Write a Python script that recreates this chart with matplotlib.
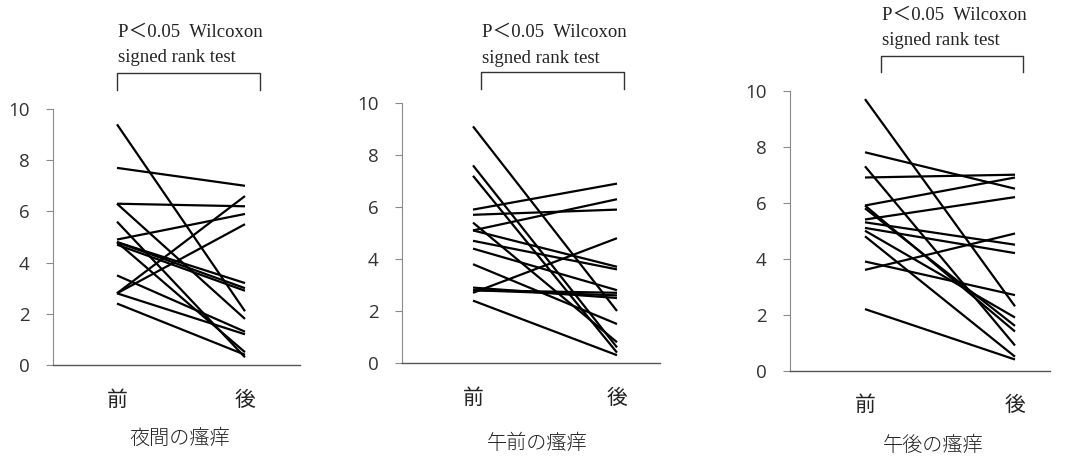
import matplotlib
matplotlib.use('Agg')
import matplotlib.pyplot as plt

# 各パネルの前後の値（目視で読み取り）
before_night = [9.4, 7.7, 6.3, 6.3, 5.6, 4.9, 4.8, 4.8, 4.7, 4.8, 3.5, 2.8, 2.8, 2.8, 2.4]
after_night = [2.1, 7.0, 6.2, 1.8, 0.3, 5.9, 3.2, 3.0, 2.9, 0.5, 1.3, 6.6, 5.5, 1.2, 0.4]

before_am = [9.1, 7.6, 7.2, 5.9, 5.7, 5.4, 5.1, 5.1, 4.7, 4.4, 3.8, 2.7, 2.8, 2.8, 2.9, 2.4]
after_am = [2.0, 0.6, 0.4, 6.9, 5.9, 0.8, 6.3, 3.7, 3.6, 2.8, 1.5, 4.8, 2.7, 2.6, 2.5, 0.3]

before_pm = [9.7, 7.8, 7.3, 6.9, 5.9, 5.9, 5.8, 5.4, 5.3, 5.1, 5.0, 4.8, 3.9, 3.6, 2.2]
after_pm = [2.3, 6.5, 0.9, 7.0, 6.9, 1.4, 1.6, 6.2, 4.5, 4.2, 1.9, 0.5, 2.7, 4.9, 0.4]

x_labels = ['前', '後']
titles = ['夜間の瘙痒', '午前の瘙痒', '午後の瘙痒']
y_ticks = [0, 2, 4, 6, 8, 10]
stat_text = 'P＜0.05  Wilcoxon\nsigned rank test'

W, H = 1091, 457
fig = plt.figure(figsize=(W / 100, H / 100), dpi=100)

# パネル配置（ピクセル）: left, right, top(10), bottom(0), 前のx, 後のx
panels = [
    (53, 300, 109, 365, 117, 245),
    (402, 660, 103, 363, 473, 617),
    (790, 1050, 90.7, 370.7, 865, 1015),
]
# 括弧とテキストの位置（ピクセル）: 括弧左, 括弧右, 括弧上, 脚下, テキスト左, テキスト中心y, 下ラベル中心x, 中心y
brackets = [
    (117, 260, 73, 90, 118, 45, 180, 438),
    (481, 624, 72, 89, 482, 45.5, 537, 443),
    (881, 1023, 56, 72, 882, 28, 933, 445),
]
data = [(before_night, after_night), (before_am, after_am), (before_pm, after_pm)]

serif = ['Liberation Serif', 'Noto Sans CJK JP']
cjk = ['Noto Sans CJK JP', 'DejaVu Sans']

for (l, r, t, b, x0, x1), (bl, br, bt, bb, tx, ty, lx, ly), (bef, aft), title in zip(panels, brackets, data, titles):
    ax = fig.add_axes([l / W, 1 - b / H, (r - l) / W, (b - t) / H])
    span = x1 - x0
    ax.set_xlim(-(x0 - l) / span, 1 + (r - x1) / span)
    ax.set_ylim(0, 10)
    for v0, v1 in zip(bef, aft):
        ax.plot([0, 1], [v0, v1], color='black', lw=1.6, solid_capstyle='butt', clip_on=False)

    for s in ['top', 'right']:
        ax.spines[s].set_visible(False)
    ax.spines['left'].set_color('#8a8a8a')
    ax.spines['left'].set_linewidth(0.8)
    ax.spines['bottom'].set_color('#555555')
    ax.spines['bottom'].set_linewidth(1.0)

    ax.set_yticks(y_ticks)
    ax.set_yticklabels([str(v) for v in y_ticks], fontfamily='Open Sans', fontsize=13.5, color='#333333')
    ax.tick_params(axis='y', direction='out', length=5, width=0.8, color='#8a8a8a', pad=12)
    ax.set_xticks([0, 1])
    ax.set_xticklabels(x_labels, fontfamily=cjk, fontsize=15, color='#222222')
    ax.tick_params(axis='x', length=0, pad=17)

    # 画素→データ変換
    def py(p):
        return (b - p) / (b - t) * 10

    def px(p):
        return (p - x0) / span

    ax.plot([px(bl), px(bl), px(br), px(br)], [py(bb), py(bt), py(bt), py(bb)],
            color='#333333', lw=1.0, clip_on=False)
    ax.text(px(tx), py(ty), stat_text, ha='left', va='center', fontsize=13.5,
            family=serif, linespacing=1.65, color='#222222', clip_on=False)
    fig.text(lx / W, 1 - ly / H, title, ha='center', va='center',
             fontsize=14.5, family=cjk, fontweight='light', color='#222222')

fig.savefig('out.png', dpi=100)
